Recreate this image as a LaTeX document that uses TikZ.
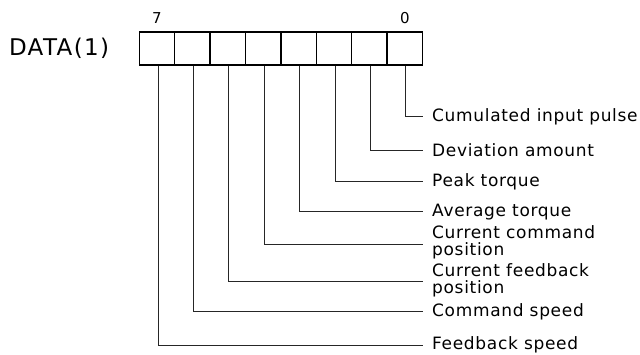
\documentclass[tikz,border=0pt]{standalone}
\usepackage{fontspec}
\setmainfont{DejaVu Sans}
\newfontfamily\lblfont[LetterSpace=4]{DejaVu Sans}
\newfontfamily\regfont[LetterSpace=6]{DejaVu Sans}
\usetikzlibrary{positioning}
\tikzset{
  cell/.style={draw, line width=1.3pt, minimum width=35.4pt, minimum height=33pt, inner sep=0pt},
  leader/.style={line width=0.8pt, black!85},
  lbl/.style={anchor=west, inner sep=0pt, align=left, font=\lblfont\fontsize{17}{17}\selectfont},
  bitno/.style={font=\lblfont\fontsize{15}{15}\selectfont}
}
\begin{document}
\begin{tikzpicture}[x=1pt, y=1pt]
        \useasboundingbox (0,0) rectangle (640,-355);

        % Register cells, bit 7 on the left
        \foreach \i in {0,...,7}
            \node[cell] (b\i) at ({157+(7-\i)*35.4}, -48.6) {};

        % Bit numbers and register name
        \node[bitno, above=4pt of b7] (n7) {7};
        \node[bitno, above=4pt of b0] (n0) {0};
        \node[left=26pt of b7, font=\regfont\fontsize{23}{23}\selectfont] (reg) {DATA(1)};

        % Labels
        \node[lbl] (l0) at (432,-116.7) {Cumulated input pulse};
        \node[lbl] (l1) at (432,-150)   {Deviation amount};
        \node[lbl] (l2) at (432,-181.7) {Peak torque};
        \node[lbl] (l3) at (432,-211.7) {Average torque};
        \node[lbl] (l4) at (432,-242)   {Current command\\position};
        \node[lbl] (l5) at (432,-280)   {Current feedback\\position};
        \node[lbl] (l6) at (432,-311.7) {Command speed};
        \node[lbl] (l7) at (432,-345)   {Feedback speed};

        % Leader lines
        \foreach \i/\y in {0/-116.7, 1/-150, 2/-181.7, 3/-211.7, 4/-244, 5/-281, 6/-311.7, 7/-345}
            \draw[leader] ([xshift=1pt]b\i.south) |- (422.7,\y) coordinate (e\i);
\end{tikzpicture}
\end{document}
